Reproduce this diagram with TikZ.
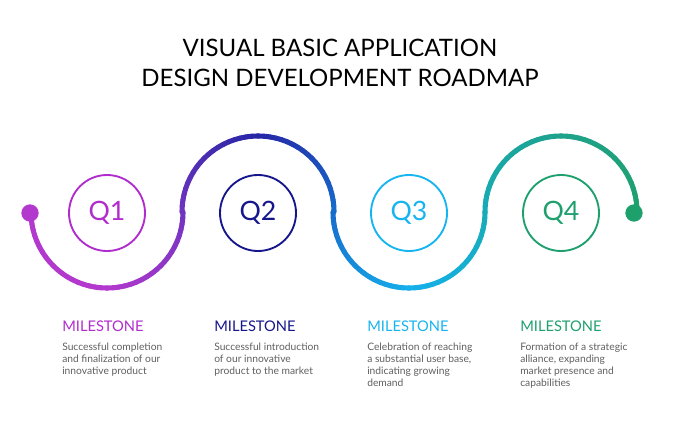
\documentclass[tikz,border=0pt]{standalone}
\usepackage{fontspec}
\setmainfont{Lato}
\usetikzlibrary{positioning}
\definecolor{cA}{RGB}{178,56,206}
\definecolor{cB}{RGB}{112,52,192}
\definecolor{cC}{RGB}{38,38,166}
\definecolor{cD}{RGB}{22,108,204}
\definecolor{cE}{RGB}{22,176,236}
\definecolor{cF}{RGB}{22,172,182}
\definecolor{cG}{RGB}{30,162,140}
\definecolor{cH}{RGB}{30,160,108}
\definecolor{qone}{RGB}{176,44,204}
\definecolor{qtwo}{RGB}{22,22,140}
\definecolor{qthree}{RGB}{22,180,240}
\definecolor{qfour}{RGB}{30,160,110}
\definecolor{bodygrey}{RGB}{95,95,95}
\tikzset{
  qring/.style={circle, draw=#1, line width=1.4pt, minimum size=57pt, inner sep=0pt,
    text=#1, font=\fontsize{20}{20}\selectfont},
  milestone/.style={anchor=north west, text=#1, inner sep=0pt, font=\fontsize{11}{13}\selectfont},
  desc/.style={anchor=north west, text=bodygrey, inner sep=0pt, align=left,
    font=\fontsize{7.7}{9}\selectfont},
  dot/.style={circle, fill=#1, minimum size=13pt, inner sep=0pt}
}
\begin{document}
\begin{tikzpicture}[x=0.75pt,y=-0.75pt]
  \useasboundingbox (0,0) rectangle (680,431);
  % Titel
  \node (title) at (340,63) [align=center, font=\fontsize{18}{22.5}\selectfont]
    {VISUAL BASIC APPLICATION\\DESIGN DEVELOPMENT ROADMAP};
  % Kurve in Stuecken mit Farbverlauf
  \foreach \cx/\a/\b/\ca/\cm/\cb in {107/180/0/cA/cA/cB, 258/180/360/cB/cC/cD,
                                     409/180/0/cD/cE/cF, 561/180/360/cF/cG/cH}{
    \foreach \i in {1,...,40}{
      \pgfmathsetmacro{\tA}{\a+(\b-\a)*(\i-1)/40}
      \pgfmathsetmacro{\tB}{\a+(\b-\a)*\i/40}
      \ifnum\i<21
        \pgfmathtruncatemacro{\p}{100-(\i-1)*5}
        \draw[line width=3.8pt, line cap=round, color=\ca!\p!\cm] (\cx,212)++(\tA:76) arc[start angle=\tA, end angle=\tB, radius=76];
      \else
        \pgfmathtruncatemacro{\p}{100-(\i-21)*5}
        \draw[line width=3.8pt, line cap=round, color=\cm!\p!\cb] (\cx,212)++(\tA:76) arc[start angle=\tA, end angle=\tB, radius=76];
      \fi
    }
  }
  \node[dot=cA] (start) at (30,213) {};
  \node[dot=cH] (end) at (634,213) {};
  % Quartale
  \node[qring=qone] (q1) at (107,213) {Q1};
  \node[qring=qtwo] (q2) at (258,213) {Q2};
  \node[qring=qthree] (q3) at (409,213) {Q3};
  \node[qring=qfour] (q4) at (561,213) {Q4};
  % Meilensteine
  \node[milestone=qone] (m1) at (62,321) {MILESTONE};
  \node[milestone=qtwo] (m2) at (214,321) {MILESTONE};
  \node[milestone=qthree] (m3) at (367,321) {MILESTONE};
  \node[milestone=qfour] (m4) at (520,321) {MILESTONE};
  \node[desc, below=8pt of m1.south west, anchor=north west] (d1)
    {Successful completion\\and finalization of our\\innovative product};
  \node[desc, below=8pt of m2.south west, anchor=north west] (d2)
    {Successful introduction\\of our innovative\\product to the market};
  \node[desc, below=8pt of m3.south west, anchor=north west] (d3)
    {Celebration of reaching\\a substantial user base,\\indicating growing\\demand};
  \node[desc, below=8pt of m4.south west, anchor=north west] (d4)
    {Formation of a strategic\\alliance, expanding\\market presence and\\capabilities};
\end{tikzpicture}
\end{document}
